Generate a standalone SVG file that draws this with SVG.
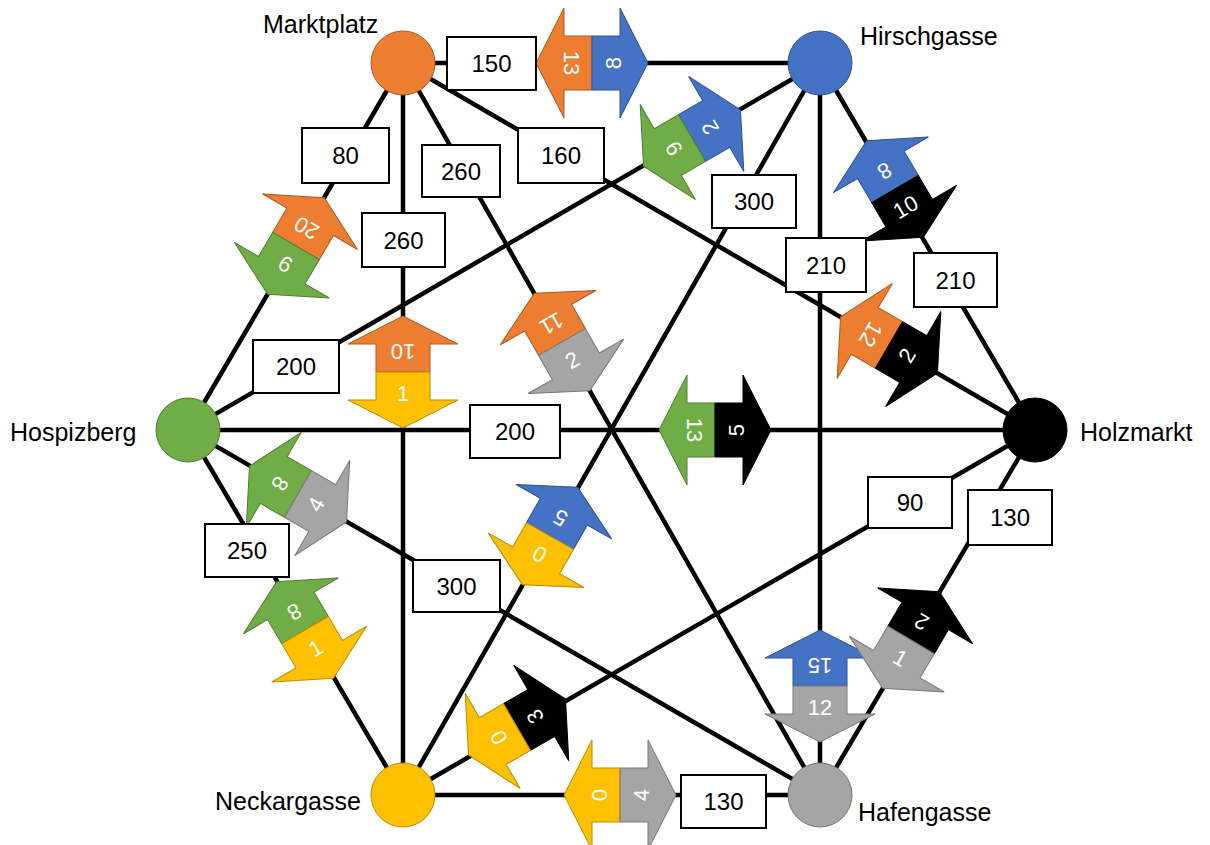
<svg xmlns="http://www.w3.org/2000/svg" xmlns:xlink="http://www.w3.org/1999/xlink" width="1210" height="845" viewBox="0 0 1210 845">
<style>
.edge{stroke:#000;stroke-width:4.5;fill:none}
.lbl{font-family:"Liberation Sans",Arial,sans-serif;font-size:25px;fill:#000}
.box rect{fill:#fff;stroke:#000;stroke-width:2}
.box text{font-family:"Liberation Sans",Arial,sans-serif;font-size:24px;fill:#000;text-anchor:middle;dominant-baseline:central}
.an{font-family:"Liberation Sans",Arial,sans-serif;font-size:22px;fill:#fff;text-anchor:middle;dominant-baseline:central}
.or{fill:#ED7D31;stroke:#AE5A21;stroke-width:1}
.bl{fill:#4472C4;stroke:#2F528F;stroke-width:1}
.gr{fill:#70AD47;stroke:#507E32;stroke-width:1}
.bk{fill:#000;stroke:#000;stroke-width:1}
.ye{fill:#FFC000;stroke:#BC8C00;stroke-width:1}
.gy{fill:#A5A5A5;stroke:#787878;stroke-width:1}
</style>
<defs>
<path id="h" d="M-27,0 L27,0 L27,28 L55,28 L0,56 L-55,28 L-27,28 Z"/>
</defs>
<g id="connectors">
<line class="edge" x1="403" y1="63" x2="820" y2="63"/>
<line class="edge" x1="403" y1="63" x2="188" y2="430"/>
<line class="edge" x1="403" y1="63" x2="403" y2="795"/>
<line class="edge" x1="403" y1="63" x2="820" y2="795"/>
<line class="edge" x1="403" y1="63" x2="1035" y2="430"/>
<line class="edge" x1="820" y1="63" x2="1035" y2="430"/>
<line class="edge" x1="820" y1="63" x2="820" y2="795"/>
<line class="edge" x1="820" y1="63" x2="188" y2="430"/>
<line class="edge" x1="820" y1="63" x2="403" y2="795"/>
<line class="edge" x1="188" y1="430" x2="1035" y2="430"/>
<line class="edge" x1="188" y1="430" x2="820" y2="795"/>
<line class="edge" x1="188" y1="430" x2="403" y2="795"/>
<line class="edge" x1="1035" y1="430" x2="403" y2="795"/>
<line class="edge" x1="1035" y1="430" x2="820" y2="795"/>
<line class="edge" x1="403" y1="795" x2="820" y2="795"/>
</g>
<g id="flows">
<g transform="translate(592,63) rotate(90)"><use href="#h" class="or"/><text class="an" x="0" y="21">13</text></g>
<g transform="translate(592,63) rotate(-90)"><use href="#h" class="bl"/><text class="an" x="0" y="21">8</text></g>
<g transform="translate(296,246) rotate(-149.63)"><use href="#h" class="or"/><text class="an" x="0" y="21">20</text></g>
<g transform="translate(296,246) rotate(30.37)"><use href="#h" class="gr"/><text class="an" x="0" y="21">6</text></g>
<g transform="translate(403,372) rotate(180)"><use href="#h" class="or"/><text class="an" x="0" y="21">10</text></g>
<g transform="translate(403,372) rotate(0)"><use href="#h" class="ye"/><text class="an" x="0" y="21">1</text></g>
<g transform="translate(562,342) rotate(150.33)"><use href="#h" class="or"/><text class="an" x="0" y="21">11</text></g>
<g transform="translate(562,342) rotate(-29.67)"><use href="#h" class="gy"/><text class="an" x="0" y="21">2</text></g>
<g transform="translate(889,345) rotate(120.14)"><use href="#h" class="or"/><text class="an" x="0" y="21">12</text></g>
<g transform="translate(889,345) rotate(-59.86)"><use href="#h" class="bk"/><text class="an" x="0" y="21">2</text></g>
<g transform="translate(895,189) rotate(149.63)"><use href="#h" class="bl"/><text class="an" x="0" y="21">8</text></g>
<g transform="translate(895,189) rotate(-30.37)"><use href="#h" class="bk"/><text class="an" x="0" y="21">10</text></g>
<g transform="translate(820,686) rotate(180)"><use href="#h" class="bl"/><text class="an" x="0" y="21">15</text></g>
<g transform="translate(820,686) rotate(0)"><use href="#h" class="gy"/><text class="an" x="0" y="21">12</text></g>
<g transform="translate(692,138) rotate(-120.14)"><use href="#h" class="bl"/><text class="an" x="0" y="21">2</text></g>
<g transform="translate(692,138) rotate(59.86)"><use href="#h" class="gr"/><text class="an" x="0" y="21">6</text></g>
<g transform="translate(550,536) rotate(-150.33)"><use href="#h" class="bl"/><text class="an" x="0" y="21">5</text></g>
<g transform="translate(550,536) rotate(29.67)"><use href="#h" class="ye"/><text class="an" x="0" y="21">0</text></g>
<g transform="translate(715,430) rotate(90)"><use href="#h" class="gr"/><text class="an" x="0" y="21">13</text></g>
<g transform="translate(715,430) rotate(-90)"><use href="#h" class="bk"/><text class="an" x="0" y="21">5</text></g>
<g transform="translate(298,494) rotate(120)"><use href="#h" class="gr"/><text class="an" x="0" y="21">8</text></g>
<g transform="translate(298,494) rotate(-60)"><use href="#h" class="gy"/><text class="an" x="0" y="21">4</text></g>
<g transform="translate(305,630) rotate(149.5)"><use href="#h" class="gr"/><text class="an" x="0" y="21">8</text></g>
<g transform="translate(305,630) rotate(-30.5)"><use href="#h" class="ye"/><text class="an" x="0" y="21">1</text></g>
<g transform="translate(517,727) rotate(-120)"><use href="#h" class="bk"/><text class="an" x="0" y="21">3</text></g>
<g transform="translate(517,727) rotate(60)"><use href="#h" class="ye"/><text class="an" x="0" y="21">0</text></g>
<g transform="translate(911,640) rotate(-149.5)"><use href="#h" class="bk"/><text class="an" x="0" y="21">2</text></g>
<g transform="translate(911,640) rotate(30.5)"><use href="#h" class="gy"/><text class="an" x="0" y="21">1</text></g>
<g transform="translate(620,795) rotate(90)"><use href="#h" class="ye"/><text class="an" x="0" y="21">0</text></g>
<g transform="translate(620,795) rotate(-90)"><use href="#h" class="gy"/><text class="an" x="0" y="21">4</text></g>
</g>
<g id="edge-labels">
<g class="box"><rect x="447" y="37" width="89" height="53"/><text x="491.5" y="63.5">150</text></g>
<g class="box"><rect x="302" y="128" width="87" height="55"/><text x="345.5" y="155.5">80</text></g>
<g class="box"><rect x="362" y="213" width="83" height="54"/><text x="403.5" y="240">260</text></g>
<g class="box"><rect x="422" y="145" width="78" height="52"/><text x="461" y="171">260</text></g>
<g class="box"><rect x="518" y="128" width="86" height="55"/><text x="561" y="155.5">160</text></g>
<g class="box"><rect x="712" y="175" width="84" height="53"/><text x="754" y="201.5">300</text></g>
<g class="box"><rect x="786" y="238" width="80" height="54"/><text x="826" y="265">210</text></g>
<g class="box"><rect x="914" y="253" width="83" height="54"/><text x="955.5" y="280">210</text></g>
<g class="box"><rect x="253" y="340" width="86" height="53"/><text x="296" y="366.5">200</text></g>
<g class="box"><rect x="470" y="405" width="90" height="53"/><text x="515" y="431.5">200</text></g>
<g class="box"><rect x="868" y="477" width="84" height="51"/><text x="910" y="502.5">90</text></g>
<g class="box"><rect x="968" y="490" width="84" height="55"/><text x="1010" y="517.5">130</text></g>
<g class="box"><rect x="205" y="524" width="84" height="53"/><text x="247" y="550.5">250</text></g>
<g class="box"><rect x="413" y="560" width="87" height="52"/><text x="456.5" y="586">300</text></g>
<g class="box"><rect x="681" y="775" width="85" height="53"/><text x="723.5" y="801.5">130</text></g>
</g>
<g id="node-marktplatz"><circle cx="403" cy="63" r="32" class="or"/><text class="lbl" x="263" y="33">Marktplatz</text></g>
<g id="node-hirschgasse"><circle cx="820" cy="63" r="32" class="bl"/><text class="lbl" x="860" y="45">Hirschgasse</text></g>
<g id="node-hospizberg"><circle cx="188" cy="430" r="32" class="gr"/><text class="lbl" x="10" y="441">Hospizberg</text></g>
<g id="node-holzmarkt"><circle cx="1035" cy="430" r="32" class="bk"/><text class="lbl" x="1080" y="441">Holzmarkt</text></g>
<g id="node-neckargasse"><circle cx="403" cy="795" r="32" class="ye"/><text class="lbl" x="215" y="810">Neckargasse</text></g>
<g id="node-hafengasse"><circle cx="820" cy="795" r="32" class="gy"/><text class="lbl" x="858" y="821">Hafengasse</text></g>
</svg>
